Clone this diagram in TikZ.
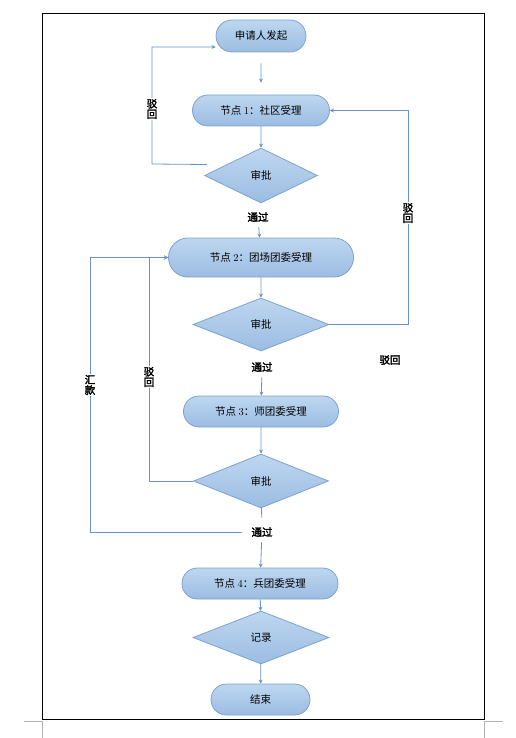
\documentclass[tikz,border=0pt]{standalone}
\usepackage{fontspec}
\newfontfamily\cjk[AutoFakeBold=2.5]{Noto Sans CJK SC}
\usetikzlibrary{shapes.geometric, shapes.misc, arrows.meta}
\definecolor{lineblue}{HTML}{6A92C2}
\definecolor{edgeblue}{HTML}{7DA2CE}
\definecolor{topblue}{HTML}{BED7F0}
\definecolor{botblue}{HTML}{9BBCE2}
\tikzset{
	proc/.style={rounded rectangle, draw=edgeblue, line width=0.8pt, top color=topblue, bottom color=botblue, minimum height=31pt, inner sep=0pt, font=\cjk\fontsize{10.5}{11}\selectfont},
	check/.style={diamond, draw=edgeblue, line width=0.8pt, top color=topblue, bottom color=botblue, inner sep=0pt, font=\cjk\fontsize{10.5}{11}\selectfont},
	lab/.style={font=\cjk\bfseries\fontsize{10.5}{10.5}\selectfont, fill=white, inner sep=1.5pt, align=center},
	flow/.style={draw=lineblue, line width=0.8pt, -{Stealth[length=4pt,width=4pt]}},
	link/.style={draw=lineblue, line width=0.8pt}
}

\begin{document}
\begin{tikzpicture}[x=1pt, y=-1pt]
	\useasboundingbox (0,0) rectangle (516,738);
	% page frame and crop marks
	\draw[line width=1.2pt] (42.5,13.5) rectangle (484.5,719.3);
	\draw[gray!60, line width=0.8pt] (24,721.5) -- (42.5,721.5) -- (42.5,738);
	\draw[gray!60, line width=0.8pt] (484.5,738) -- (484.5,721.5) -- (503,721.5);

	% main column
	\node[proc, minimum width=90pt, minimum height=32pt] (start) at (261,36) {申请人发起};
	\node[proc, minimum width=137pt] (n1) at (261,110.5) {节点 \textrm{1}：社区受理};
	\node[check, minimum width=113pt, minimum height=55pt] (d1) at (261,175.5) {审批};
	\node[lab] (t1) at (258,217) {通过};
	\node[proc, minimum width=185pt, minimum height=39pt] (n2) at (261,257.5) {节点 \textrm{2}：团场团委受理};
	\node[check, minimum width=136pt, minimum height=53pt] (d2) at (261,324.5) {审批};
	\node[lab] (t2) at (262,367) {通过};
	\node[proc, minimum width=155pt] (n3) at (261,411.5) {节点 \textrm{3}：师团委受理};
	\node[check, minimum width=135pt, minimum height=54pt] (d3) at (261,481) {审批};
	\node[lab] (t3) at (262,532) {通过};
	\node[proc, minimum width=156pt] (n4) at (260,583.5) {节点 \textrm{4}：兵团委受理};
	\node[check, minimum width=136pt, minimum height=53pt] (d4) at (261,637.5) {记录};
	\node[proc, minimum width=99pt] (end) at (260.5,699.5) {结束};

	\draw[flow, shorten <=11pt, shorten >=12pt] (start) -- (n1);
	\draw[flow] (n1) -- (d1);
	\draw[flow, shorten <=4pt] (t1) -- (n2);
	\draw[flow] (n2) -- (d2);
	\draw[flow, shorten <=4pt] (t2) -- (n3);
	\draw[flow] (n3) -- (d3);
	\draw[link, shorten >=8pt] (d3) -- (t3);
	\draw[flow, shorten <=4pt] (t3) -- (n4);
	\draw[flow] (n4) -- (d4);
	\draw[flow] (d4) -- (end);

	% return loops
	\draw[flow] ([xshift=3pt, yshift=11pt]d1.west) -- (152,164) |- ([yshift=-11pt]start.west);
	\draw[flow] (d2.east) -- (408,324.5) |- (n1.east);
	\draw[flow] (d3.west) -- (149,481) |- (n2.west);
	\draw[flow, shorten <=8pt] (t3.west) -- (90,532) |- (n2.west);

	\node[lab] (b1) at (152,109) {驳\\回};
	\node[lab] (b2) at (408,213) {驳\\回};
	\node[lab] (b3) at (390,360) {驳回};
	\node[lab] (b4) at (149,377) {驳\\回};
	\node[lab] (h1) at (90,385) {汇\\款};
\end{tikzpicture}
\end{document}
